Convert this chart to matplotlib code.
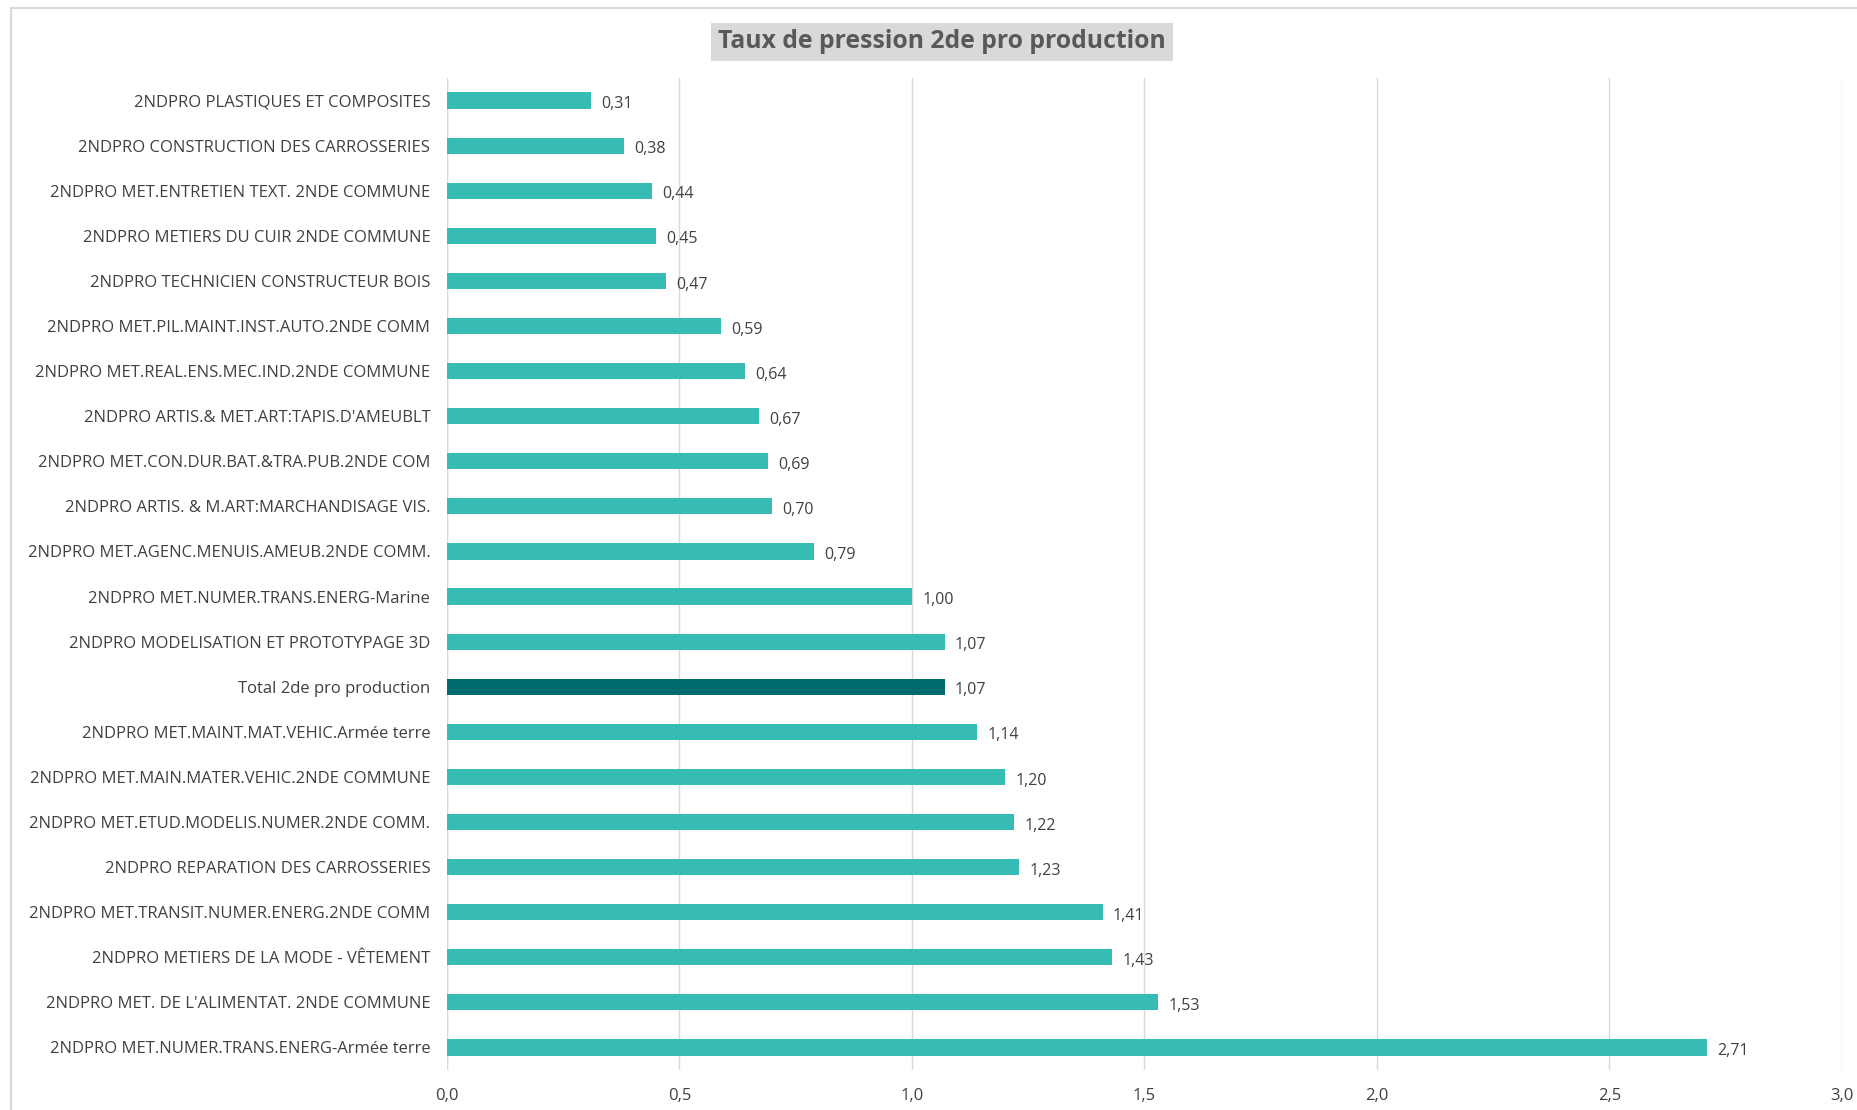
import matplotlib.pyplot as plt
from matplotlib.patches import Rectangle

plt.rcParams['font.family'] = ['Open Sans', 'DejaVu Sans']

# Data, top to bottom as in the chart
labels = [
    "2NDPRO PLASTIQUES ET COMPOSITES",
    "2NDPRO CONSTRUCTION DES CARROSSERIES",
    "2NDPRO MET.ENTRETIEN TEXT. 2NDE COMMUNE",
    "2NDPRO METIERS DU CUIR 2NDE COMMUNE",
    "2NDPRO TECHNICIEN CONSTRUCTEUR BOIS",
    "2NDPRO MET.PIL.MAINT.INST.AUTO.2NDE COMM",
    "2NDPRO MET.REAL.ENS.MEC.IND.2NDE COMMUNE",
    "2NDPRO ARTIS.& MET.ART:TAPIS.D'AMEUBLT",
    "2NDPRO MET.CON.DUR.BAT.&TRA.PUB.2NDE COM",
    "2NDPRO ARTIS. & M.ART:MARCHANDISAGE VIS.",
    "2NDPRO MET.AGENC.MENUIS.AMEUB.2NDE COMM.",
    "2NDPRO MET.NUMER.TRANS.ENERG-Marine",
    "2NDPRO MODELISATION ET PROTOTYPAGE 3D",
    "Total 2de pro production",
    "2NDPRO MET.MAINT.MAT.VEHIC.Armée terre",
    "2NDPRO MET.MAIN.MATER.VEHIC.2NDE COMMUNE",
    "2NDPRO MET.ETUD.MODELIS.NUMER.2NDE COMM.",
    "2NDPRO REPARATION DES CARROSSERIES",
    "2NDPRO MET.TRANSIT.NUMER.ENERG.2NDE COMM",
    "2NDPRO METIERS DE LA MODE - VÊTEMENT",
    "2NDPRO MET. DE L'ALIMENTAT. 2NDE COMMUNE",
    "2NDPRO MET.NUMER.TRANS.ENERG-Armée terre",
]
values = [0.31, 0.38, 0.44, 0.45, 0.47, 0.59, 0.64, 0.67, 0.69, 0.70, 0.79,
          1.00, 1.07, 1.07, 1.14, 1.20, 1.22, 1.23, 1.41, 1.43, 1.53, 2.71]
total_label = "Total 2de pro production"
xticks = [0.0, 0.5, 1.0, 1.5, 2.0, 2.5, 3.0]

teal = '#36BBB5'
dark_teal = '#006A6F'
text_col = '#404040'

W, H = 1858, 1110
fig = plt.figure(figsize=(W / 100, H / 100), dpi=100)
ax = fig.add_axes([447 / W, 1 - 1070 / H, (1842 - 447) / W, (1070 - 78) / H])

ypos = list(range(len(labels)))
colors = [dark_teal if l == total_label else teal for l in labels]
ax.barh(ypos, values, height=0.36, color=colors, zorder=3)

for y, v in zip(ypos, values):
    ax.text(v + 0.022, y + 0.08, f"{v:.2f}".replace('.', ','), va='center', ha='left',
            fontsize=11.5, color=text_col)

ax.set_ylim(len(labels) - 0.5, -0.5)
ax.set_xlim(0, 3.0)
ax.set_yticks(ypos)
ax.set_yticklabels(labels, fontsize=12, color=text_col)
ax.set_xticks(xticks)
ax.set_xticklabels([f"{t:.1f}".replace('.', ',') for t in xticks], fontsize=12, color=text_col)
ax.tick_params(axis='y', length=0, pad=12)
ax.tick_params(axis='x', length=0, pad=13)
ax.grid(axis='x', color='#D9D9D9', linewidth=1, zorder=0)
for s in ax.spines.values():
    s.set_visible(False)
ax.axvline(0, color='#D9D9D9', linewidth=1, zorder=1)

# title with grey box
fig.text(0.5 * (715 + 1169) / W, 1 - 42 / H, "Taux de pression 2de pro production",
         ha='center', va='center', fontsize=17.8, fontweight='bold', color='#595959',
         bbox=dict(boxstyle='square,pad=0.28', facecolor='#D9D9D9', edgecolor='none'))

# chart outer border
fig.patches.append(Rectangle((11 / W, -0.1), 1.2, 1 - 8 / H + 0.1, transform=fig.transFigure,
                             fill=False, edgecolor='#D9D9D9', linewidth=1.5))

fig.savefig('out.png', dpi=100)
